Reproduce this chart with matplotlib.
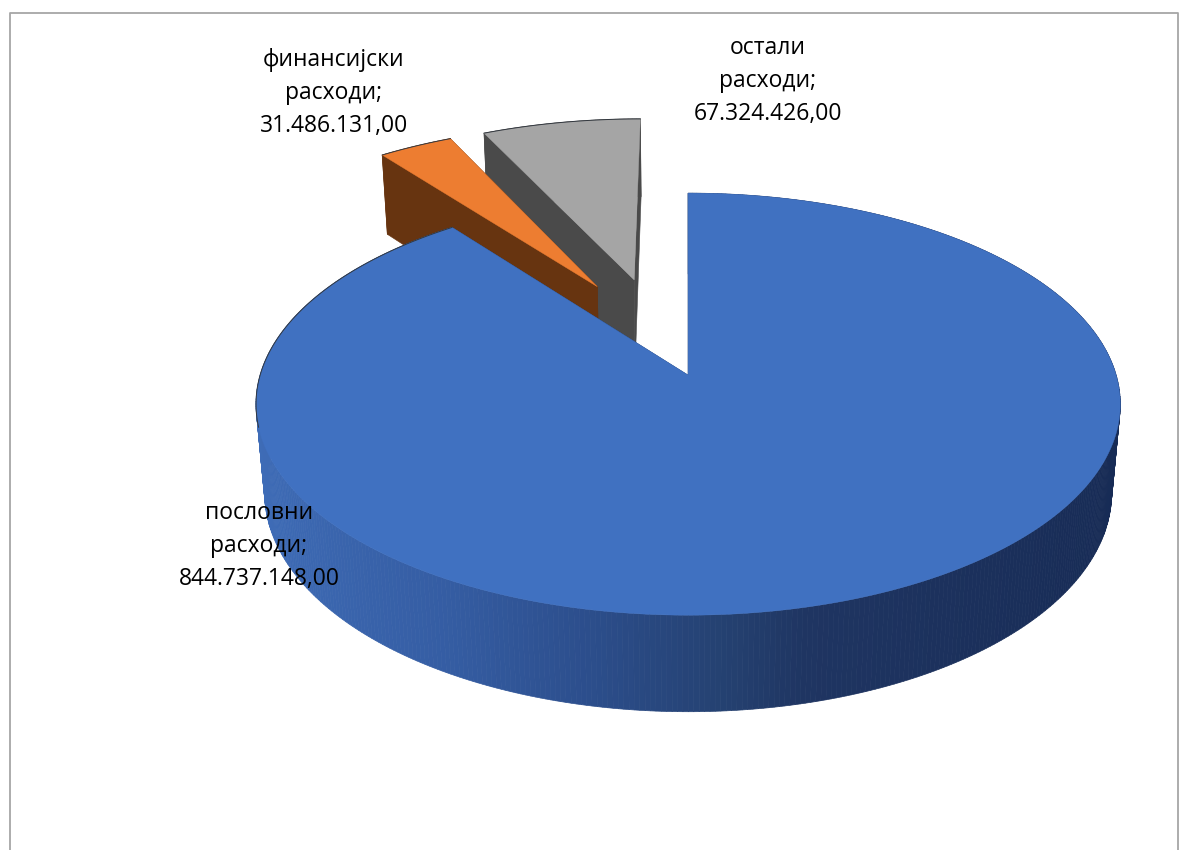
import matplotlib
matplotlib.use('Agg')
import matplotlib.pyplot as plt
from matplotlib.colors import LinearSegmentedColormap
import numpy as np

# slice values, in chart order (clockwise from 12 o'clock)
names = ['пословни\nрасходи;', 'финансијски\nрасходи;', 'остали\nрасходи;']
amounts = [844737148.00, 31486131.00, 67324426.00]
amount_labels = ['844.737.148,00', '31.486.131,00', '67.324.426,00']
explode = [0.21, 0.30, 0.30]

top_colors = ['#4071c1', '#ed7d31', '#a5a5a5']
side_colors = ['#24406f', '#673410', '#4a4a4a']
label_xy = [(259, 513), (334, 60), (768, 48)]

# blue rim shading, from the left end to the right end of the pie
blue_rim = LinearSegmentedColormap.from_list('rim', [
    (0.0, '#3f6db8'), (0.25, '#355da3'), (0.4, '#2c4e8c'),
    (0.55, '#24406f'), (0.62, '#1f3562'), (1.0, '#172b55')])

# perspective of the pie, fitted by eye, in pixels
ox, oy = 688, 375
sx, sy = 428, 207
tilt = 0.1374
depth_w, depth_y = 0.02, 90
cu, cv = -0.0675, 0.198


def project(u, v, z=0):
    w = 1 + tilt * v + depth_w * z
    return ox + sx * u / w, oy + (-sy * v + depth_y * z) / w


fig = plt.figure(figsize=(11.87, 8.5), dpi=100)
ax = fig.add_axes([0, 0, 1, 1])
ax.set_xlim(0, 1187)
ax.set_ylim(850, 0)
ax.axis('off')

# chart area border, only top and left are in the picture
ax.plot([9.5, 9.5, 1178, 1178], [850, 13, 13, 850], color='#a6a6a6', lw=1.3, zorder=1)

fracs = np.array(amounts) / sum(amounts)
ends = np.cumsum(fracs) * 2 * np.pi
starts = ends - fracs * 2 * np.pi

# back slices first, blue goes over them
for i in [2, 1, 0]:
    t0, t1 = starts[i], ends[i]
    mid = (t0 + t1) / 2
    au = cu + explode[i] * np.sin(mid)
    av = cv + explode[i] * np.cos(mid)
    ts = np.linspace(t0, t1, max(int((t1 - t0) * 90), 8))
    us = au + np.sin(ts)
    vs = av + np.cos(ts)

    # cut faces
    for k in [0, -1]:
        face = [project(au, av), project(us[k], vs[k]),
                project(us[k], vs[k], 1), project(au, av, 1)]
        ax.fill(*zip(*face), color=side_colors[i], lw=0.4, zorder=2 + (2 - i) * 3)

    # rim, back to front
    order = np.argsort(-vs[:-1])
    for j in order:
        quad = [project(us[j], vs[j]), project(us[j + 1], vs[j + 1]),
                project(us[j + 1], vs[j + 1], 1), project(us[j], vs[j], 1)]
        col = side_colors[i]
        if i == 0:
            col = blue_rim((np.sin(ts[j]) + 1) / 2)
        ax.fill(*zip(*quad), color=col, lw=0.5, zorder=3 + (2 - i) * 3)

    # top face
    top = [project(au, av)] + [project(a, b) for a, b in zip(us, vs)]
    ax.fill(*zip(*top), color=top_colors[i], lw=0.3, zorder=4 + (2 - i) * 3)

    # thin dark edge on the back of the rim
    back = vs - av > -0.25
    if i == 0:
        back = (vs - av > -0.25) & (np.sin(ts) < 0)
    xe, ye = project(us[back], vs[back])
    ax.plot(xe, ye, color='#33383f', lw=0.7, zorder=4 + (2 - i) * 3)

for name, lab, (x, y) in zip(names, amount_labels, label_xy):
    lines = name.split('\n') + [lab]
    for n, line in enumerate(lines):
        ax.text(x, y + n * 33, line, ha='center', va='center', fontsize=16.5,
                family='Open Sans', color='black', zorder=20)

fig.savefig('out.png', dpi=100, facecolor='white')
